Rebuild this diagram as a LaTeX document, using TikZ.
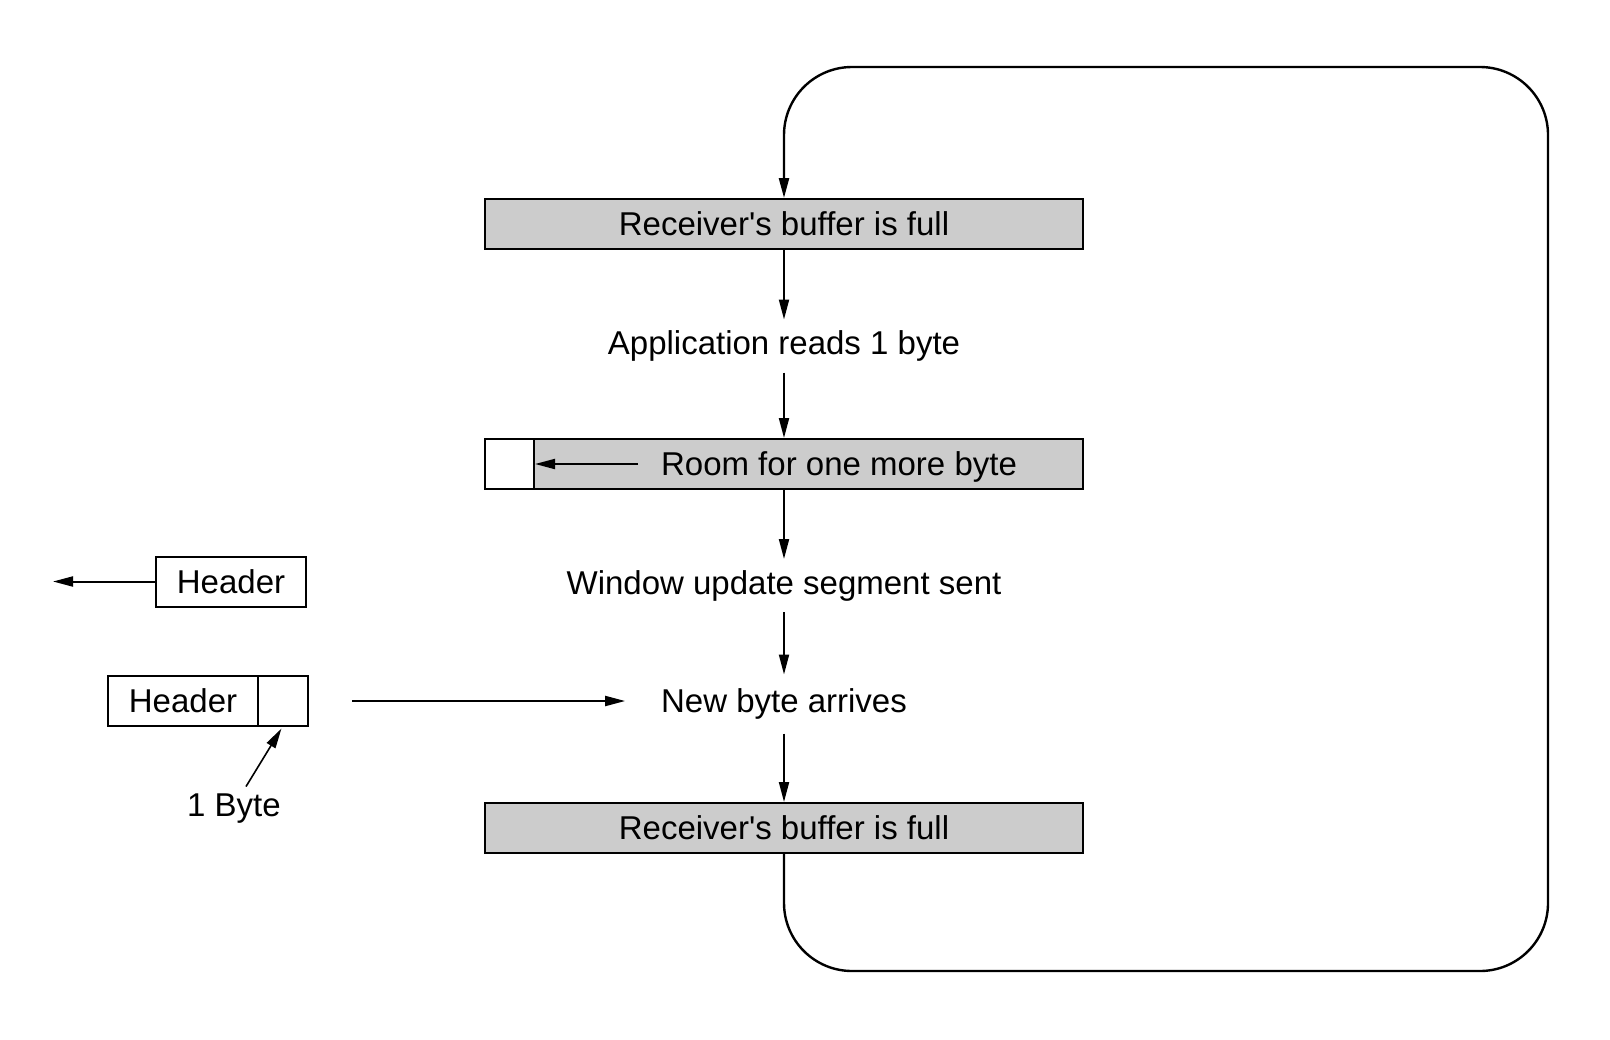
\documentclass[tikz,border=0pt]{standalone}
\usepackage{fontspec}
\setmainfont{Liberation Sans}
\usepackage{tikz}
\usetikzlibrary{positioning,arrows.meta,calc}

\begin{document}
\begin{tikzpicture}[
  x=0.5pt, y=-0.5pt,
  buf/.style={draw, fill=gray!40, minimum width=299pt, minimum height=25pt, inner sep=0pt},
  txt/.style={minimum height=25.5pt, inner sep=0pt},
  hbox/.style={draw, minimum width=75pt, minimum height=25pt, inner sep=0pt, outer sep=0pt},
  >={Triangle[length=10pt,width=5pt]}, line width=1pt, color=black,
  font=\fontsize{16.5}{20}\selectfont
]
\useasboundingbox (0,0) rectangle (1610,1039);

% receiver side
\node[buf] (buf1) at (784,224) {Receiver\textquotesingle s buffer is full};
\node[txt] (app) at (784,346) {Application reads 1 byte};
\node[buf] (buf2) at (784,464) {};
\node[draw, fill=white, minimum width=24.5pt, minimum height=25pt, inner sep=0pt] (cell) at (509.5,464) {};
\node[inner xsep=11pt, inner ysep=0pt] (roomtxt) at (839,466.5) {Room for one more byte};
\node[txt] (win) at (784,585.5) {Window update segment sent};
\node[txt, minimum height=28.5pt, inner xsep=17.5pt] (newb) at (784,704) {New byte arrives};
\node[buf] (buf3) at (784,828) {Receiver\textquotesingle s buffer is full};

\draw[->] (buf1) -- (app);
\draw[->] (app) -- (buf2);
\draw[->] (roomtxt.west |- cell.east) -- (cell.east);
\draw[->] (buf2) -- (win);
\draw[->] (win) -- (newb);
\draw[->] (newb) -- (buf3);

% loop back to the top
\coordinate (lpbr) at (1548,971);
\coordinate (lptr) at (1548,67);
\coordinate (lptl) at (784,67);
\draw[->, line width=1.2pt, rounded corners=34pt] (buf3.south) |- (lpbr) -- (lptr) -- (lptl) -- (buf1.north);

% segments on the wire
\node[hbox] (hdr) at (231,581.5) {Header};
\coordinate (hdrend) at (53,581.5);
\draw[->] (hdr.west) -- (hdrend);

\node[hbox] (hdrb) at (183,701) {Header};
\node[draw, minimum width=25pt, minimum height=25pt, inner sep=0pt, outer sep=0pt, anchor=west] (bytecell) at (hdrb.east) {};
\node (bytelbl) at (234,809) {1 Byte};
\draw[->, shorten <=22pt] (bytecell.east) -- (newb.west |- bytecell.east);
\draw[->, line width=0.8pt, shorten >=1.5pt] ([xshift=6pt]bytelbl.north) -- (bytecell.south);
\end{tikzpicture}
\end{document}
